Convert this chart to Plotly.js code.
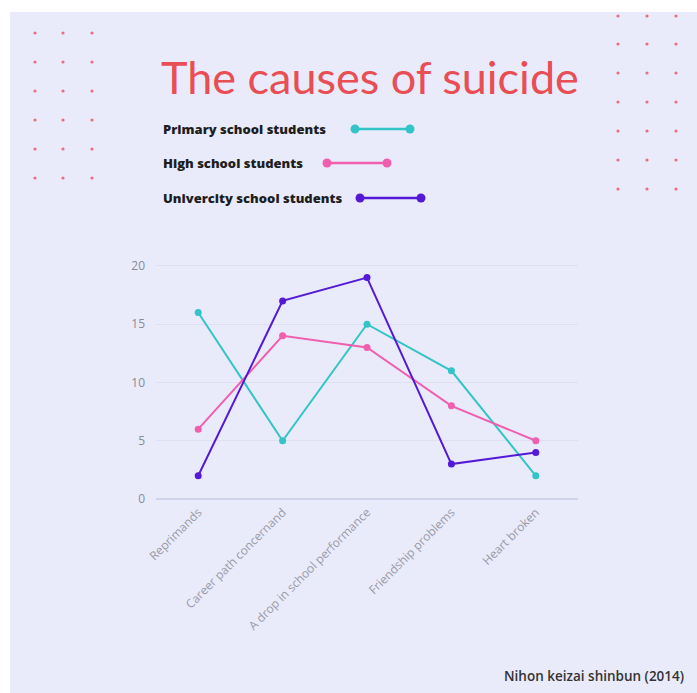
<!DOCTYPE html>
<html><head><meta charset="utf-8">
<script src="https://cdn.plot.ly/plotly-3.0.1.min.js"></script>
<style>html,body{margin:0;padding:0;background:#fff;}#chart{width:697px;height:693px;}</style>
</head><body><div id="chart"></div>
<script>
const categories = ["Reprimands", "Career path concernand", "A drop in school performance", "Friendship problems", "Heart broken"];
const seriesNames = ["Primary school students", "High school students", "Univercity school students"];
const primary = [16, 5, 15, 11, 2];
const high = [6, 14, 13, 8, 5];
const univ = [2, 17, 19, 3, 4];
const yTicks = [0, 5, 10, 15, 20];

const colors = ["#33c4c8", "#ef5fae", "#5419d6"];
const W = 697, H = 693;
const L = 156, R = 578, T = 263, B = 502;
const px = x => (x - L) / (R - L);
const py = y => (B - y) / (B - T);

const traces = [primary, high, univ].map((vals, i) => ({
  type: "scatter", mode: "lines+markers", x: categories, y: vals, name: seriesNames[i],
  line: {color: colors[i], width: 2}, marker: {color: colors[i], size: 7}, showlegend: false
}));

const shapes = [];
const annotations = [];
shapes.push({type: "rect", xref: "paper", yref: "paper", x0: px(10), x1: px(W + 5), y0: py(12), y1: py(H + 5),
  fillcolor: "#e9ebfb", line: {width: 0}, layer: "below"});
function dots(xs, ys) {
  xs.forEach(x => ys.forEach(y => shapes.push({type: "circle", xref: "paper", yref: "paper",
    x0: px(x - 1.6), x1: px(x + 1.6), y0: py(y + 1.6), y1: py(y - 1.6),
    fillcolor: "#e8707e", line: {width: 0}, layer: "above"})));
}
dots([35, 63, 92], [33, 62, 91, 120, 149, 178]);
dots([618, 647, 676], [16, 44, 73, 102, 131, 160, 189]);

const legY = [129, 163, 198];
const legX0 = [355, 327, 360];
const legX1 = [410, 387, 421];
seriesNames.forEach((n, i) => {
  annotations.push({xref: "paper", yref: "paper", x: px(161), y: py(legY[i]), xanchor: "left", yanchor: "middle",
    text: n, showarrow: false, font: {family: "Open Sans, sans-serif", size: 13, weight: 800, color: "#1e1e1e"}});
  shapes.push({type: "line", xref: "paper", yref: "paper", x0: px(legX0[i]), x1: px(legX1[i]), y0: py(legY[i]), y1: py(legY[i]),
    line: {color: colors[i], width: 2.5}});
  [legX0[i], legX1[i]].forEach(cx => shapes.push({type: "circle", xref: "paper", yref: "paper",
    x0: px(cx - 4.5), x1: px(cx + 4.5), y0: py(legY[i] + 4.5), y1: py(legY[i] - 4.5),
    fillcolor: colors[i], line: {width: 0}}));
});

annotations.push({xref: "paper", yref: "paper", x: px(370), y: py(77), xanchor: "center", yanchor: "middle",
  text: "The causes of suicide", showarrow: false, font: {family: "Lato, sans-serif", size: 45, weight: 400, color: "#e84e54"}});
annotations.push({xref: "paper", yref: "paper", x: px(686), y: py(676), xanchor: "right", yanchor: "middle",
  text: "Nihon keizai shinbun (2014)", showarrow: false, font: {family: "Open Sans, sans-serif", size: 13.5, weight: 600, color: "#333333"}});

const layout = {
  width: W, height: H,
  margin: {l: L, r: W - R, t: T, b: H - B, pad: 0},
  paper_bgcolor: "#ffffff", plot_bgcolor: "rgba(0,0,0,0)",
  showlegend: false,
  xaxis: {type: "category", range: [-0.5, 4.5], tickangle: -45, showgrid: false, zeroline: false, showline: false,
    ticks: "", tickfont: {family: "Open Sans, sans-serif", size: 12, color: "#9a9aa6"}, fixedrange: true},
  yaxis: {range: [-0.25, 20.25], tickvals: yTicks, ticktext: yTicks.map(String), showgrid: true, gridcolor: "#dde0f2", gridwidth: 1,
    zeroline: true, zerolinecolor: "#d0d3e8", zerolinewidth: 2, showline: false, ticks: "", ticklabelstandoff: 10,
    tickfont: {family: "Open Sans, sans-serif", size: 12, color: "#8a8a95"}, fixedrange: true},
  shapes: shapes, annotations: annotations
};
Plotly.newPlot("chart", traces, layout, {displayModeBar: false, staticPlot: true});
</script></body></html>
